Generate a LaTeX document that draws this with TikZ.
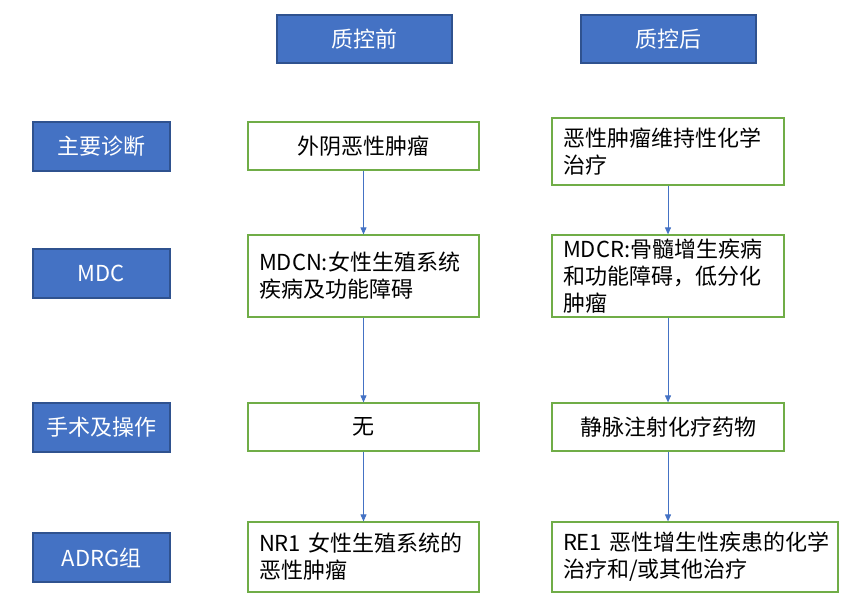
\documentclass[tikz,border=0pt]{standalone}
\usepackage{fontspec}
\setmainfont{Noto Sans CJK SC}
\usetikzlibrary{arrows.meta}
\definecolor{hdrblue}{HTML}{4472C4}
\definecolor{hdredge}{HTML}{2F528F}
\definecolor{boxgreen}{HTML}{70AD47}
\definecolor{arrowblue}{HTML}{4472C4}
\tikzset{
  x=1pt, y=-1pt,
  txt/.style={font={\fontsize{22}{27}\selectfont}},
  hdr/.style={txt, draw=hdredge, line width=1.2pt, fill=hdrblue, text=white,
    minimum height=48pt, inner sep=0pt, align=center},
  infobox/.style={txt, draw=boxgreen, line width=1.2pt, fill=white, text=black,
    inner xsep=11pt, inner ysep=0pt},
  flow/.style={draw=arrowblue, line width=0.9pt, -{Triangle[length=7pt,width=6pt]}}
}
\begin{document}
\begin{tikzpicture}
\useasboundingbox (0,0) rectangle (852,615);
% column headers
\node[hdr, minimum width=175pt] (h1) at (364.5,39) {质控前};
\node[hdr, minimum width=175pt] (h2) at (668.5,39) {质控后};
% row labels
\node[hdr, minimum width=137pt, minimum height=49pt] (l1) at (101.5,146.5) {主要诊断};
\node[hdr, minimum width=137pt, minimum height=49pt] (l2) at (101.5,273.5) {MDC};
\node[hdr, minimum width=137pt, minimum height=49pt] (l3) at (101.5,427.5) {手术及操作};
\node[hdr, minimum width=137pt, minimum height=49pt] (l4) at (101.5,557.5) {ADRG组};
% before quality control
\node[infobox, text width=209pt, minimum height=48pt, align=center] (a1) at (363.5,146) {外阴恶性肿瘤};
\node[infobox, text width=209pt, minimum height=82pt, align=left] (a2) at (363.5,276) {MDCN:女性生殖系统\\疾病及功能障碍};
\node[infobox, text width=209pt, minimum height=48pt, align=center] (a3) at (363.5,427) {无};
\node[infobox, text width=209pt, minimum height=70pt, align=left] (a4) at (363.5,557) {NR1~女性生殖系统的\\恶性肿瘤};
% after quality control
\node[infobox, text width=210pt, minimum height=67pt, align=left] (b1) at (668,151.5) {恶性肿瘤维持性化学\\治疗};
\node[infobox, text width=210pt, minimum height=82pt, align=left] (b2) at (668,276) {MDCR:骨髓增生疾病\\和功能障碍，低分化\\肿瘤};
\node[infobox, text width=210pt, minimum height=48pt, align=center] (b3) at (668,427) {静脉注射化疗药物};
\node[infobox, text width=264pt, minimum height=70pt, align=left] (b4) at (695,557) {RE1~恶性增生性疾患的化学\\治疗和/或其他治疗};
% arrows
\draw[flow] (a1.south) -- (a2.north);
\draw[flow] (a2.south) -- (a3.north);
\draw[flow] (a3.south) -- (a4.north);
\draw[flow] (b1.south) -- (b2.north);
\draw[flow] (b2.south) -- (b3.north);
\draw[flow] (b3.south) -- (b3.south |- b4.north);
\end{tikzpicture}
\end{document}
